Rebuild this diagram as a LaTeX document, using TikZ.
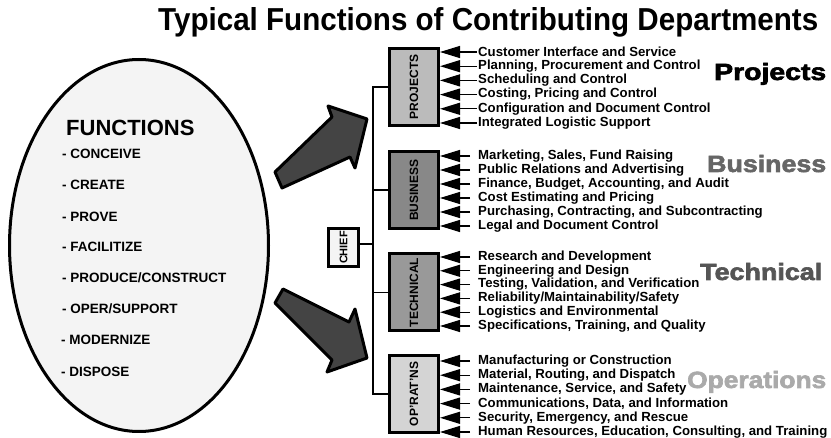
\documentclass[tikz,border=0pt]{standalone}
\usepackage{fontspec}
\setmainfont{Liberation Sans}
\newfontfamily\heavy[FakeBold=2.5]{Liberation Sans Bold}
\usetikzlibrary{shapes.geometric,arrows.meta}
\definecolor{ellfill}{HTML}{F4F4F4}
\definecolor{arrfill}{HTML}{444444}
\definecolor{projfill}{HTML}{BBBBBB}
\definecolor{busfill}{HTML}{888888}
\definecolor{techfill}{HTML}{999999}
\definecolor{opsfill}{HTML}{D4D4D4}
\definecolor{busgray}{HTML}{666666}
\definecolor{techgray}{HTML}{555555}
\definecolor{opsgray}{HTML}{AAAAAA}
\tikzset{
  dept/.style={draw, line width=3pt, minimum width=49pt, minimum height=77pt, inner sep=0pt,
    font=\fontsize{12}{12}\selectfont\bfseries},
  item/.style={anchor=west, inner sep=0pt, font=\fontsize{13.2}{13.2}\selectfont\bfseries},
  fnitem/.style={anchor=west, inner sep=0pt, font=\fontsize{13.5}{13.5}\selectfont\bfseries},
  conn/.style={line width=1.2pt},
  feed/.style={line width=1.2pt, -{Triangle[length=20pt,width=12pt]}},
  bigarrow/.style={draw, line width=3pt, fill=arrfill, line join=round},
  biglabel/.style={anchor=base west, inner sep=0pt},
}
\begin{document}
\begin{tikzpicture}[x=1pt,y=-1pt]
\useasboundingbox (0,0) rectangle (831,438);
% title
\node[anchor=base west, inner sep=0pt] (title) at (158,31)
  {\resizebox{660pt}{23pt}{\fontsize{30}{30}\selectfont\bfseries Typical Functions of Contributing Departments}};
% ellipse
\node[ellipse, draw, line width=3pt, fill=ellfill, minimum width=259pt, minimum height=372pt] (fn) at (139,245.5) {};
\node[anchor=west, inner sep=0pt, font=\fontsize{22}{22}\selectfont\bfseries] (fnt) at (66,128) {FUNCTIONS};
\node[fnitem] (f1) at (62,154) {- CONCEIVE};
\node[fnitem] (f2) at (62,185) {- CREATE};
\node[fnitem] (f3) at (62,217) {- PROVE};
\node[fnitem] (f4) at (62,247) {- FACILITIZE};
\node[fnitem] (f5) at (62,278) {- PRODUCE/CONSTRUCT};
\node[fnitem] (f6) at (62,309) {- OPER/SUPPORT};
\node[fnitem] (f7) at (61,340) {- MODERNIZE};
\node[fnitem] (f8) at (61,372) {- DISPOSE};
% big arrows
\draw[bigarrow] (275,172) -- (332,117) -- (328,106) -- (367,119) -- (355,168) -- (350,157) -- (282,188) -- cycle;
\draw[bigarrow] (283,289) -- (349,322) -- (355,309) -- (367,358) -- (327,372) -- (332,360) -- (275,303) -- cycle;
% department boxes
\node[dept, fill=projfill] (proj) at (414,87) {\rotatebox{90}{PROJECTS}};
\node[dept, fill=busfill] (bus) at (414,190) {\rotatebox{90}{BUSINESS}};
\node[dept, fill=techfill] (tech) at (414,292.5) {\rotatebox{90}{TECHNICAL}};
\node[dept, fill=opsfill] (ops) at (414,394) {\rotatebox{90}{OP'RAT'NS}};
\node[draw, line width=3pt, fill=ellfill, minimum width=30pt, minimum height=38pt, inner sep=0pt,
  font=\fontsize{11}{11}\selectfont\bfseries] (chief) at (343.5,247.5) {\rotatebox{90}{CHIEF}};
% tree connectors
\coordinate (tt) at (373,87);
\coordinate (tb) at (373,394);
\draw[conn] (proj.west) -- (tt) -- (tb) -- (ops.west);
\draw[conn] (bus.west) -- (bus.west -| tt);
\draw[conn] (tech.west) -- (tech.west -| tt);
\draw[conn] ([yshift=3.5pt]chief.east) -- ([yshift=3.5pt]chief.east -| tt);
% items
\foreach \t [count=\i] in {{Customer Interface and Service},{Planning, Procurement and Control},{Scheduling and Control},{Costing, Pricing and Control},{Configuration and Document Control},{Integrated Logistic Support}}{
  \node[item] (p\i) at (478,{52+14.2*(\i-1)}) {\t};
  \draw[feed] ([xshift=-1pt]p\i.west) -- (proj.east |- p\i.west);
}
\foreach \t [count=\i] in {{Marketing, Sales, Fund Raising},{Public Relations and Advertising},{Finance, Budget, Accounting, and Audit},{Cost Estimating and Pricing},{Purchasing, Contracting, and Subcontracting},{Legal and Document Control}}{
  \node[item] (b\i) at (478,{156+14*(\i-1)}) {\t};
  \draw[feed] ([xshift=-8pt]b\i.west) -- (bus.east |- b\i.west);
}
\foreach \t [count=\i] in {{Research and Development},{Engineering and Design},{Testing, Validation, and Verification},{Reliability/Maintainability/Safety},{Logistics and Environmental},{Specifications, Training, and Quality}}{
  \node[item] (t\i) at (478,{257+13.8*(\i-1)}) {\t};
  \draw[feed] ([xshift=-8pt]t\i.west) -- (tech.east |- t\i.west);
}
\foreach \t [count=\i] in {{Manufacturing or Construction},{Material, Routing, and Dispatch},{Maintenance, Service, and Safety},{Communications, Data, and Information},{Security, Emergency, and Rescue},{Human Resources, Education, Consulting, and Training}}{
  \node[item] (o\i) at (478,{361+14.2*(\i-1)}) {\t};
  \draw[feed] ([xshift=-8pt]o\i.west) -- (ops.east |- o\i.west);
}
% big labels
\node[biglabel] (lp) at (714,80) {\resizebox{112pt}{17pt}{\heavy Projects}};
\node[biglabel, text=busgray] (lb) at (707,172) {\resizebox{119pt}{17pt}{\heavy Business}};
\node[biglabel, text=techgray] (lt) at (700,280) {\resizebox{122pt}{17pt}{\heavy Technical}};
\node[biglabel, text=opsgray] (lo) at (687,388) {\resizebox{139pt}{17pt}{\heavy Operations}};
\end{tikzpicture}
\end{document}
